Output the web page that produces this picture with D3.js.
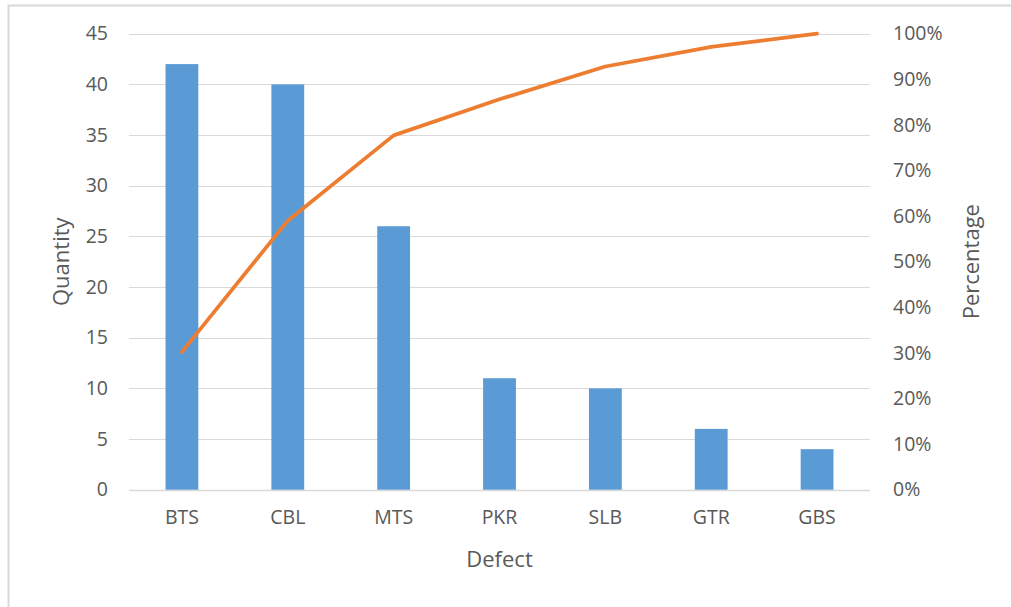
<!DOCTYPE html>
<html>
<head>
<meta charset="utf-8">
<script src="https://cdn.jsdelivr.net/npm/d3@7"></script>
<style>
  html, body { margin: 0; padding: 0; background: #fff; }
  svg { display: block; font-family: "Open Sans", "Noto Sans", sans-serif; }
</style>
</head>
<body>
<svg id="chart" width="1011" height="607"></svg>
<script>
// Defect counts, sorted for a Pareto view
const categories = ["BTS", "CBL", "MTS", "PKR", "SLB", "GTR", "GBS"];
const quantities = [42, 40, 26, 11, 10, 6, 4];
const qtyTicks = [0, 5, 10, 15, 20, 25, 30, 35, 40, 45];
const pctTicks = [0, 0.1, 0.2, 0.3, 0.4, 0.5, 0.6, 0.7, 0.8, 0.9, 1.0];

// Running share of the total
const total = d3.sum(quantities);
const cumulative = d3.cumsum(quantities).map(v => v / total);

const svg = d3.select("#chart");
const W = 1011, H = 607;
const plot = { left: 129, right: 870, top: 33.7, bottom: 489.7 };
const textColor = "#595959";
const tickSize = 19.5;
const titleSize = 22;

// Outer frame of the chart area
svg.append("path")
  .attr("d", `M8.5,${H} V5.5 H${W}`)
  .attr("fill", "none")
  .attr("stroke", "#d9d9d9")
  .attr("stroke-width", 2);

const x = d3.scaleBand()
  .domain(categories)
  .range([plot.left, plot.right])
  .paddingInner(0.69)
  .paddingOuter(0.345);

const y = d3.scaleLinear().domain([0, 45]).range([plot.bottom, plot.top]);
const yPct = d3.scaleLinear().domain([0, 1]).range([plot.bottom, plot.top]);

// Horizontal gridlines
svg.append("g")
  .selectAll("line")
  .data(qtyTicks)
  .join("line")
  .attr("x1", plot.left)
  .attr("x2", plot.right)
  .attr("y1", d => Math.round(y(d)) + 0.5)
  .attr("y2", d => Math.round(y(d)) + 0.5)
  .attr("stroke", "#d9d9d9")
  .attr("stroke-width", d => d === 0 ? 1.5 : 1);

// Left axis (quantity)
const leftAxis = svg.append("g")
  .attr("transform", `translate(${plot.left - 21},0)`)
  .call(d3.axisLeft(y).tickValues(qtyTicks).tickSize(0).tickPadding(0));
leftAxis.select(".domain").remove();
leftAxis.selectAll("text")
  .attr("fill", textColor)
  .attr("font-size", tickSize)
  .attr("font-family", "Open Sans, sans-serif");

// Right axis (cumulative percentage)
const rightAxis = svg.append("g")
  .attr("transform", `translate(${plot.right + 23},0)`)
  .call(d3.axisRight(yPct).tickValues(pctTicks).tickSize(0).tickPadding(0)
    .tickFormat(d3.format(".0%")));
rightAxis.select(".domain").remove();
rightAxis.selectAll("text")
  .attr("fill", textColor)
  .attr("font-size", tickSize)
  .attr("font-family", "Open Sans, sans-serif");

// Bottom axis (categories)
const bottomAxis = svg.append("g")
  .attr("transform", `translate(0,${plot.bottom + 20})`)
  .call(d3.axisBottom(x).tickSize(0).tickPadding(0));
bottomAxis.select(".domain").remove();
bottomAxis.selectAll("text")
  .attr("fill", textColor)
  .attr("font-size", tickSize)
  .attr("dy", "0.71em")
  .attr("font-family", "Open Sans, sans-serif");

// Bars
svg.append("g")
  .selectAll("rect")
  .data(categories)
  .join("rect")
  .attr("x", (d) => x(d))
  .attr("width", x.bandwidth())
  .attr("y", (d, i) => y(quantities[i]))
  .attr("height", (d, i) => y(0) - y(quantities[i]))
  .attr("fill", "#5b9bd5");

// Cumulative percentage line
const line = d3.line()
  .x((d, i) => x(categories[i]) + x.bandwidth() / 2)
  .y(d => yPct(d));

svg.append("path")
  .datum(cumulative)
  .attr("d", line)
  .attr("fill", "none")
  .attr("stroke", "#ed7d31")
  .attr("stroke-width", 3.75)
  .attr("stroke-linecap", "round")
  .attr("stroke-linejoin", "round");

// Axis titles
svg.append("text")
  .attr("transform", `translate(69,${(plot.top + plot.bottom) / 2}) rotate(-90)`)
  .attr("text-anchor", "middle")
  .attr("fill", textColor)
  .attr("font-size", titleSize)
  .text("Quantity");

svg.append("text")
  .attr("transform", `translate(979,${(plot.top + plot.bottom) / 2}) rotate(-90)`)
  .attr("text-anchor", "middle")
  .attr("fill", textColor)
  .attr("font-size", titleSize)
  .text("Percentage");

svg.append("text")
  .attr("x", (plot.left + plot.right) / 2)
  .attr("y", 567)
  .attr("text-anchor", "middle")
  .attr("fill", textColor)
  .attr("font-size", titleSize)
  .text("Defect");
</script>
</body>
</html>
